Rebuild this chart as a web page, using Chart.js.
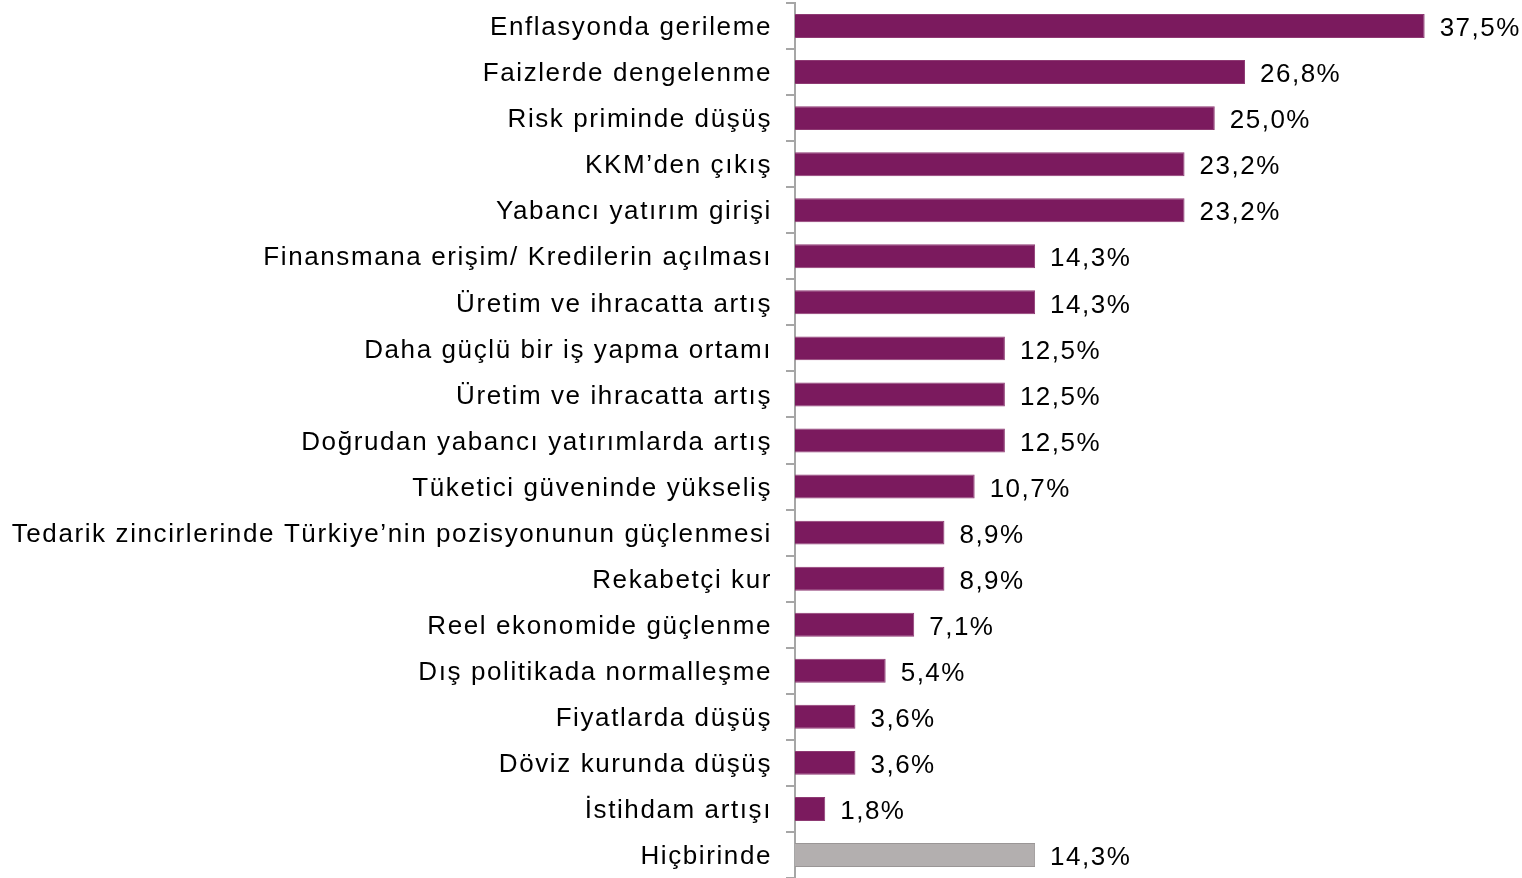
<!DOCTYPE html>
<html><head><meta charset="utf-8">
<script src="https://cdn.jsdelivr.net/npm/chart.js@4.4.1/dist/chart.umd.min.js"></script>
<style>html,body{margin:0;padding:0;background:#fff}#wrap{width:1522px;height:878px;position:relative}</style>
</head><body><div id="wrap"><canvas id="c"></canvas></div>
<script>
const categories = [
  "Enflasyonda gerileme",
  "Faizlerde dengelenme",
  "Risk priminde düşüş",
  "KKM’den çıkış",
  "Yabancı yatırım girişi",
  "Finansmana erişim/ Kredilerin açılması",
  "Üretim ve ihracatta artış",
  "Daha güçlü bir iş yapma ortamı",
  "Üretim ve ihracatta artış",
  "Doğrudan yabancı yatırımlarda artış",
  "Tüketici güveninde yükseliş",
  "Tedarik zincirlerinde Türkiye’nin pozisyonunun güçlenmesi",
  "Rekabetçi kur",
  "Reel ekonomide güçlenme",
  "Dış politikada normalleşme",
  "Fiyatlarda düşüş",
  "Döviz kurunda düşüş",
  "İstihdam artışı",
  "Hiçbirinde"
];
const values = [37.5, 26.8, 25.0, 23.2, 23.2, 14.3, 14.3, 12.5, 12.5, 12.5, 10.7, 8.9, 8.9, 7.1, 5.4, 3.6, 3.6, 1.8, 14.3];
const valueLabels = ["37,5%","26,8%","25,0%","23,2%","23,2%","14,3%","14,3%","12,5%","12,5%","12,5%","10,7%","8,9%","8,9%","7,1%","5,4%","3,6%","3,6%","1,8%","14,3%"];

const purple = "#7B1A5E", gray = "#B3AFAF";
const fills = categories.map((c,i)=> i===categories.length-1 ? gray : purple);
const borders = categories.map((c,i)=> i===categories.length-1 ? "#9a9696" : "#8e3a73");

const spacingPlugin = {
  id: 'spacing',
  beforeDraw(chart){ chart.ctx.letterSpacing = '1.6px'; }
};
const labelPlugin = {
  id: 'vlabels',
  afterDatasetsDraw(chart){
    const ctx = chart.ctx;
    const meta = chart.getDatasetMeta(0);
    ctx.save();
    ctx.letterSpacing = '1.5px';
    ctx.font = '26px "Liberation Sans", Arial, sans-serif';
    ctx.fillStyle = '#000';
    ctx.textBaseline = 'middle';
    ctx.textAlign = 'left';
    meta.data.forEach((bar,i)=>{
      ctx.fillText(valueLabels[i], bar.x + 15, bar.y + 3);
    });
    ctx.restore();
  }
};

new Chart(document.getElementById('c'), {
  type: 'bar',
  data: { labels: categories, datasets: [{ data: values, backgroundColor: fills, borderColor: borders, borderWidth: 1, barPercentage: 0.52, categoryPercentage: 1.0 }] },
  options: {
    indexAxis: 'y',
    responsive: true, maintainAspectRatio: false, animation: false,
    layout: { padding: { top: 3, bottom: -3, right: 5, left: 0 } },
    plugins: { legend: { display: false }, tooltip: { enabled: false } },
    scales: {
      x: { display: false, min: 0, max: 43 },
      y: {
        afterFit(scale){ scale.width = 795; scale.paddingTop = 0; scale.paddingBottom = 0; },
        grid: { offset: true, drawOnChartArea: false, drawTicks: true, tickLength: 9, color: '#A6A6A6', lineWidth: 2 },
        border: { display: true, color: '#A6A6A6', width: 2 },
        ticks: { padding: 14, labelOffset: 2, color: '#000', font: { family: '"Liberation Sans", Arial, sans-serif', size: 26 }, autoSkip: false }
      }
    }
  },
  plugins: [spacingPlugin, labelPlugin]
});
</script></body></html>
